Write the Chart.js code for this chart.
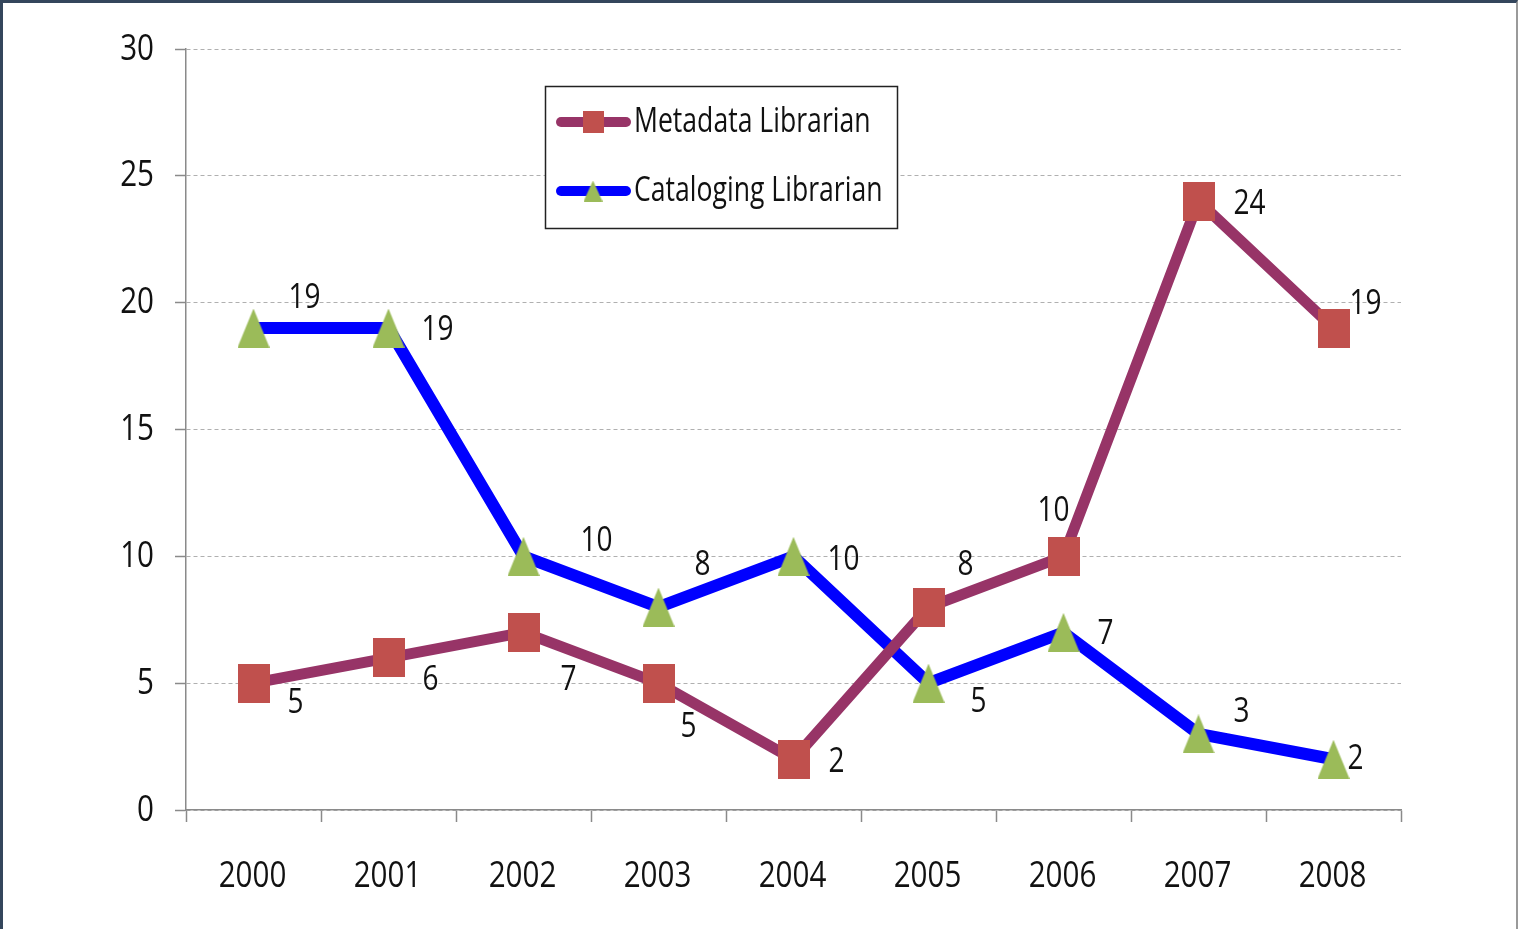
<!DOCTYPE html>
<html>
<head>
<meta charset="utf-8">
<script src="https://cdn.jsdelivr.net/npm/chart.js@4/dist/chart.umd.min.js"></script>
<style>
  html, body { margin: 0; padding: 0; background: #fff; }
  #wrap { position: relative; width: 1518px; height: 929px; }
  #frame { position: absolute; left: 0; top: 0; right: 0; bottom: 0; pointer-events: none;
           border-top: 3px solid #34465c; border-left: 3px solid #34465c; border-right: 2px solid #9a9a9a; }
</style>
</head>
<body>
<div id="wrap">
  <canvas id="chart"></canvas>
  <div id="frame"></div>
</div>
<script>
// values
const years = ['2000', '2001', '2002', '2003', '2004', '2005', '2006', '2007', '2008'];
const metadataLibrarian = [5, 6, 7, 5, 2, 8, 10, 24, 19];
const catalogingLibrarian = [19, 19, 10, 8, 10, 5, 7, 3, 2];
const yMin = 0, yMax = 30, yStep = 5;

// where each value label sits relative to its point (styling only)
const metaLabelOffsets = [[42, 20], [42, 22], [45, 48], [30, 44], [43, 3], [37, -42], [-10, -45], [51, 3], [32, -24]];
const catLabelOffsets = [[51, -30], [49, 2], [73, -15], [44, -42], [50, 4], [50, 19], [42, 2], [43, -22], [22, 0]];

const FONT = '"Open Sans", "Noto Sans", sans-serif';

function markerCanvas(w, h, color, shape) {
  const c = document.createElement('canvas');
  c.width = w; c.height = h;
  const g = c.getContext('2d');
  g.fillStyle = color;
  if (shape === 'rect') {
    g.fillRect(0, 0, w, h);
  } else {
    g.beginPath();
    g.moveTo(w / 2, 0);
    g.lineTo(w, h);
    g.lineTo(0, h);
    g.closePath();
    g.fill();
  }
  return c;
}

const redSquare = markerCanvas(32, 39, '#c0504d', 'rect');
const greenTri = markerCanvas(32, 39, '#9bbb59', 'tri');
const legendSquare = markerCanvas(21, 22, '#c0504d', 'rect');
const legendTri = markerCanvas(19, 21, '#9bbb59', 'tri');

// draw text narrowed horizontally around its anchor (the reference text is tall and narrow)
function narrowText(ctx, text, x, y, align, size, sx) {
  ctx.save();
  ctx.font = size + 'px ' + FONT;
  ctx.fillStyle = '#111';
  ctx.textAlign = align;
  ctx.textBaseline = 'middle';
  ctx.translate(x, y);
  ctx.scale(sx || 0.8, 1);
  ctx.fillText(text, 0, 0);
  ctx.restore();
}

const axisText = {
  id: 'axisText',
  afterDraw(chart) {
    const ctx = chart.ctx;
    const xs = chart.scales.x, ys = chart.scales.y;
    ys.ticks.forEach(t => {
      narrowText(ctx, String(t.value), ys.right - 32, ys.getPixelForValue(t.value), 'right', 37);
    });
    xs.ticks.forEach((t, i) => {
      narrowText(ctx, String(chart.data.labels[i]), xs.getPixelForTick(i) - 1, xs.top + 66, 'center', 37);
    });
  }
};

const valueLabels = {
  id: 'valueLabels',
  afterDatasetsDraw(chart) {
    const ctx = chart.ctx;
    chart.data.datasets.forEach((ds, i) => {
      const meta = chart.getDatasetMeta(i);
      meta.data.forEach((pt, j) => {
        const off = ds.labelOffsets[j];
        narrowText(ctx, String(ds.data[j]), pt.x + off[0], pt.y + off[1], 'center', 35);
      });
    });
  }
};

const boxLegend = {
  id: 'boxLegend',
  afterDraw(chart) {
    const ctx = chart.ctx;
    const box = { x: 545.5, y: 86.5, w: 352, h: 142 };
    ctx.save();
    ctx.fillStyle = '#fff';
    ctx.fillRect(box.x, box.y, box.w, box.h);
    ctx.strokeStyle = '#222';
    ctx.lineWidth = 1.5;
    ctx.strokeRect(box.x, box.y, box.w, box.h);
    const rows = [122, 191];
    const icons = [legendSquare, legendTri];
    chart.data.datasets.forEach((ds, i) => {
      const y = rows[i];
      ctx.strokeStyle = ds.borderColor;
      ctx.lineWidth = 10;
      ctx.lineCap = 'round';
      ctx.beginPath();
      ctx.moveTo(561, y);
      ctx.lineTo(626, y);
      ctx.stroke();
      const ic = icons[i];
      ctx.drawImage(ic, 593 - ic.width / 2, y - ic.height / 2);
      narrowText(ctx, ds.label, 634, y, 'left', 35, 0.76);
    });
    ctx.restore();
  }
};

new Chart(document.getElementById('chart'), {
  type: 'line',
  data: {
    labels: years,
    datasets: [
      {
        label: 'Metadata Librarian',
        data: metadataLibrarian,
        borderColor: '#973467',
        borderWidth: 11,
        pointStyle: redSquare,
        pointRadius: 20,
        tension: 0,
        labelOffsets: metaLabelOffsets
      },
      {
        label: 'Cataloging Librarian',
        data: catalogingLibrarian,
        borderColor: '#0000ff',
        borderWidth: 12,
        pointStyle: greenTri,
        pointRadius: 20,
        tension: 0,
        labelOffsets: catLabelOffsets
      }
    ]
  },
  options: {
    responsive: true,
    maintainAspectRatio: false,
    animation: false,
    layout: { padding: { top: 49, right: 117, left: 0, bottom: 0 } },
    plugins: { legend: { display: false }, tooltip: { enabled: false } },
    scales: {
      x: {
        offset: true,
        grid: { display: true, drawOnChartArea: false, offset: true, tickLength: 12, tickColor: '#8a8a8a', tickWidth: 1.5 },
        border: { color: '#8a8a8a', width: 1.5 },
        ticks: { display: false },
        afterFit(scale) { scale.height = 119; }
      },
      y: {
        min: yMin,
        max: yMax,
        grid: { color: '#b0b0b0', lineWidth: 1, tickLength: 11, tickColor: '#8a8a8a', tickWidth: 1.5 },
        border: { color: '#8a8a8a', width: 1.5, dash: [4, 3] },
        ticks: { stepSize: yStep, display: false },
        afterFit(scale) { scale.width = 186; }
      }
    }
  },
  plugins: [valueLabels, boxLegend, axisText]
});
</script>
</body>
</html>
